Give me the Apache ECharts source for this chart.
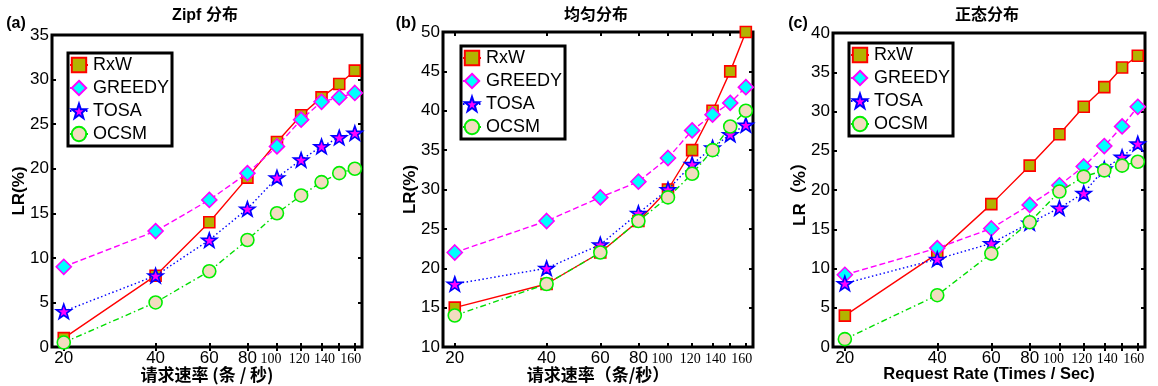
<!DOCTYPE html>
<html>
<head>
<meta charset="utf-8">
<script src="https://cdn.jsdelivr.net/npm/echarts@6/dist/echarts.min.js"></script>
<style>
  html, body { margin: 0; padding: 0; background: #fff; }
  #main { width: 1158px; height: 386px; }
</style>
</head>
<body>
<div id="main"></div>
<script>
// 请求速率（横轴，对数刻度）
var rates = [20, 40, 60, 80, 100, 120, 140, 160, 180];
var tickLabels = ['20', '40', '60', '80', '100', '120', '140', '', '160'];
var seriesNames = ['RxW', 'GREEDY', 'TOSA', 'OCSM'];

// (a) Zipf 分布
var zipfRxW    = [1, 8, 14, 19, 23, 26, 28, 29.5, 31];
var zipfGreedy = [9, 13, 16.5, 19.5, 22.5, 25.5, 27.5, 28, 28.5];
var zipfTosa   = [4, 8, 12, 15.5, 19, 21, 22.5, 23.5, 24];
var zipfOcsm   = [0.5, 5, 8.5, 12, 15, 17, 18.5, 19.5, 20];

// (b) 均匀分布
var uniRxW    = [15, 18, 22, 26, 30, 35, 40, 45, 50];
var uniGreedy = [22, 26, 29, 31, 34, 37.5, 39.5, 41, 43];
var uniTosa   = [18, 20, 23, 27, 30, 33.2, 35.3, 37, 38.2];
var uniOcsm   = [14, 18, 22, 26, 29, 32, 35, 38, 40];

// (c) 正态分布
var normRxW    = [4, 11.9, 18.2, 23.1, 27.1, 30.6, 33.1, 35.6, 37.1];
var normGreedy = [9.2, 12.6, 15.1, 18.1, 20.6, 23, 25.6, 28.1, 30.6];
var normTosa   = [8.1, 11.2, 13.2, 15.8, 17.7, 19.6, 22.7, 24.2, 25.9];
var normOcsm   = [1, 6.6, 11.9, 15.9, 19.8, 21.7, 22.5, 23.1, 23.6];

var STAR = 'path://M0,-10L2.35,-3.24L9.51,-3.09L3.8,1.24L5.88,8.09L0,4L-5.88,8.09L-3.8,1.24L-9.51,-3.09L-2.35,-3.24Z';

// 各曲线样式
var styles = [
    {symbol: 'rect', size: 11, color: '#b3b300', border: '#ff0000', line: '#ff0000', type: 'solid'},
    {symbol: 'diamond', size: 15, color: '#00ffff', border: '#ff00ff', line: '#ff00ff', type: [6, 3]},
    {symbol: STAR, size: 15, color: '#ff00ff', border: '#0000ff', line: '#0000ff', type: [1.5, 2.5]},
    {symbol: 'circle', size: 13, color: '#f2dcc0', border: '#00ee00', line: '#00dd00', type: [6, 3, 1.5, 3]}
];

var panels = [
    {left: 52, top: 35, width: 310, height: 312, ymin: 0, ymax: 35,
     title: 'Zipf 分布', tag: '(a)', titleX: 205, tagX: 16,
     xname: '请求速率 (条 / 秒)', yname: 'LR(%)',
     legend: {left: 68, top: 53},
     data: [zipfRxW, zipfGreedy, zipfTosa, zipfOcsm]},
    {left: 443, top: 32, width: 310, height: 315, ymin: 10, ymax: 50,
     title: '均匀分布', tag: '(b)', titleX: 596, tagX: 406,
     xname: '请求速率（条/秒）', yname: 'LR(%)',
     legend: {left: 461, top: 46},
     data: [uniRxW, uniGreedy, uniTosa, uniOcsm]},
    {left: 833, top: 33, width: 312, height: 314, ymin: 0, ymax: 40,
     title: '正态分布', tag: '(c)', titleX: 987, tagX: 798,
     xname: 'Request Rate (Times / Sec)', yname: 'LR（%）',
     legend: {left: 849, top: 43},
     data: [normRxW, normGreedy, normTosa, normOcsm]}
];

var logRates = rates.map(function (r) { return Math.log(r); });
var labelValues = logRates.filter(function (v, i) { return tickLabels[i] !== ''; });
var xMin = Math.log(18.3), xMax = Math.log(190);

// 标签样式：前四个用 Arial，后面的用 Times，且略有偏移
var labelStyleKeys = ['big', 'big', 'big', 'big', 's100', 's120', 's140', 's140', 's160'];

function labelFor(v) {
    var best = 0;
    for (var i = 0; i < logRates.length; i++) {
        if (Math.abs(logRates[i] - v) < Math.abs(logRates[best] - v)) best = i;
    }
    return '{' + labelStyleKeys[best] + '|' + tickLabels[best] + '}';
}

var serif = {fontSize: 14, fontFamily: 'Liberation Serif, Times New Roman', color: '#000'};
var richLabels = {
    big: {fontSize: 17, fontFamily: 'Liberation Sans, Arial', color: '#000'},
    s100: echarts.util.extend({padding: [2, 12, 0, 0]}, serif),
    s120: echarts.util.extend({padding: [2, 4, 0, 0]}, serif),
    s140: echarts.util.extend({padding: [2, 0, 0, 6]}, serif),
    s160: echarts.util.extend({padding: [2, 8, 0, 0]}, serif)
};

var grids = [], xAxes = [], yAxes = [], series = [], legends = [], graphics = [];
var tickStyle = {show: true, inside: true, length: 4, lineStyle: {color: '#000', width: 2}};

panels.forEach(function (p, k) {
    grids.push({left: p.left, top: p.top, width: p.width, height: p.height,
        outerBoundsMode: 'none', containLabel: false,
        show: true, borderColor: '#000', borderWidth: 3, backgroundColor: 'transparent'});

    // 下方 x 轴
    xAxes.push({
        type: 'value', gridIndex: k, min: xMin, max: xMax, position: 'bottom',
        name: p.xname, nameLocation: 'middle', nameGap: 19, nameMoveOverlap: false,
        nameTextStyle: {color: '#000', fontSize: k === 2 ? 16.5 : 17, fontWeight: 'bold',
            fontFamily: k === 2 ? 'Liberation Sans, Arial' : 'Noto Sans CJK SC'},
        axisLine: {show: false},
        splitLine: {show: false},
        axisTick: {show: true, inside: true, length: 4, lineStyle: {color: '#000', width: 2}, customValues: logRates},
        axisLabel: {customValues: labelValues, margin: 3, color: '#000', formatter: labelFor, rich: richLabels}
    });
    // 上方 x 轴（只画刻度）
    xAxes.push({
        type: 'value', gridIndex: k, min: xMin, max: xMax, position: 'top',
        axisLine: {show: false}, splitLine: {show: false}, axisLabel: {show: false},
        axisTick: {show: true, inside: true, length: 4, lineStyle: {color: '#000', width: 2}, customValues: logRates}
    });
    // 左侧 y 轴
    yAxes.push({
        type: 'value', gridIndex: k, min: p.ymin, max: p.ymax, interval: 5, position: 'left',
        name: p.yname, nameLocation: 'middle', nameGap: 24, nameRotate: 90, nameMoveOverlap: false,
        nameTextStyle: {color: '#000', fontSize: 17, fontWeight: 'bold', fontFamily: 'Liberation Sans, Noto Sans CJK SC'},
        axisLine: {show: false}, splitLine: {show: false},
        axisTick: tickStyle,
        axisLabel: {color: '#000', fontSize: 17, fontFamily: 'Liberation Sans, Arial', margin: 3}
    });
    // 右侧 y 轴（只画刻度）
    yAxes.push({
        type: 'value', gridIndex: k, min: p.ymin, max: p.ymax, interval: 5, position: 'right',
        axisLine: {show: false}, splitLine: {show: false}, axisLabel: {show: false},
        axisTick: tickStyle
    });

    p.data.forEach(function (vals, j) {
        var s = styles[j];
        series.push({
            name: seriesNames[j], type: 'line', xAxisIndex: 2 * k, yAxisIndex: 2 * k,
            data: rates.map(function (r, i) { return [Math.log(r), vals[i]]; }),
            symbol: s.symbol, symbolSize: s.size, symbolKeepAspect: true,
            itemStyle: {color: s.color, borderColor: s.border, borderWidth: 1.6},
            lineStyle: {color: s.line, width: 1.4, type: s.type},
            clip: false, animation: false, z: 3 + j
        });
    });

    legends.push({
        data: seriesNames, orient: 'vertical', left: p.legend.left, top: p.legend.top,
        backgroundColor: '#fff', borderColor: '#000', borderWidth: 3,
        padding: [3, 3, 3, 1], itemGap: 5, itemWidth: 18, itemHeight: 18,
        textStyle: {color: '#000', fontSize: 18, fontFamily: 'Liberation Sans, Arial'}
    });

    graphics.push({type: 'text', x: p.titleX, y: 16, style: {text: p.title,
        fill: '#000', font: 'bold 16px "Liberation Sans", "Noto Sans CJK SC"',
        textAlign: 'center', textVerticalAlign: 'middle'}});
    graphics.push({type: 'text', x: p.tagX, y: 24, style: {text: p.tag,
        fill: '#000', font: 'bold 16px "Liberation Sans", Arial',
        textAlign: 'center', textVerticalAlign: 'middle'}});
});

var chart = echarts.init(document.getElementById('main'), null, {renderer: 'canvas'});
chart.setOption({
    backgroundColor: '#fff',
    animation: false,
    grid: grids,
    xAxis: xAxes,
    yAxis: yAxes,
    legend: legends,
    graphic: graphics,
    series: series
});
</script>
</body>
</html>
